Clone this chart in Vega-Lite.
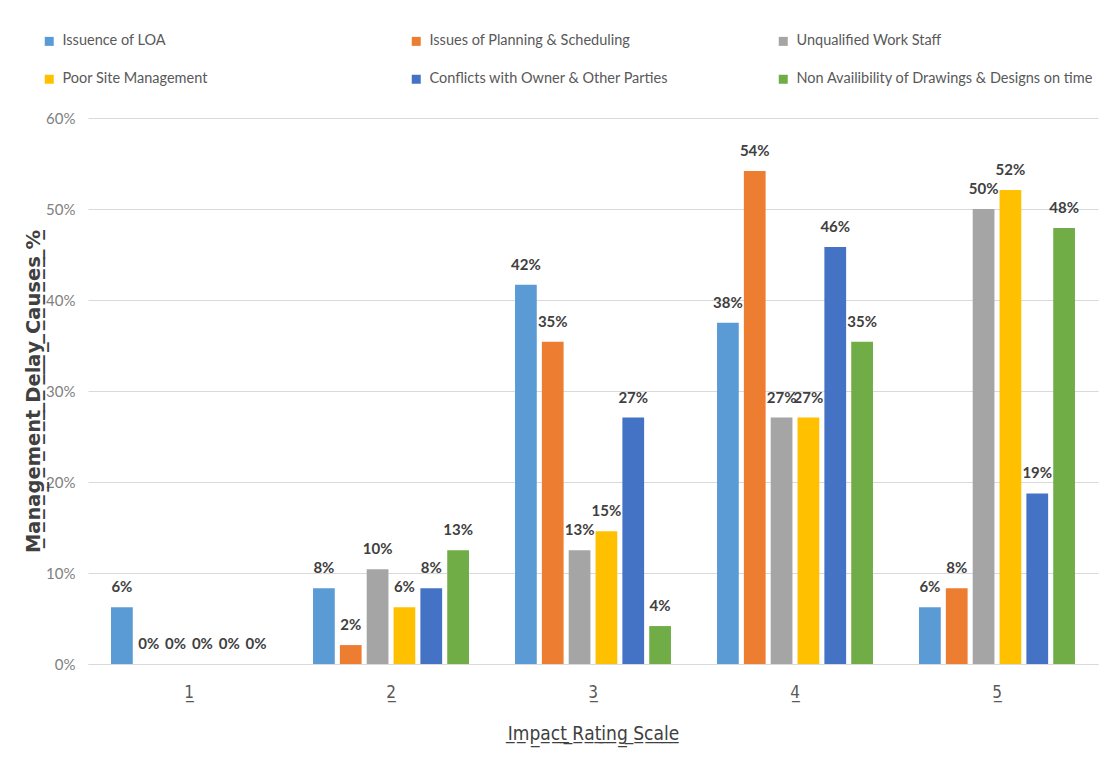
{
  "$schema": "https://vega.github.io/schema/vega-lite/v6.json",
  "width": 1010,
  "height": 546,
  "autosize": {"type": "none"},
  "padding": {"left": 88, "top": 118, "right": 11, "bottom": 105},
  "background": "white",
  "config": {
    "font": "Lato, sans-serif",
    "view": {"stroke": null}
  },
  "data": {
    "values": [
      {"scale": "1", "cause": "Issuence of LOA", "value": 0.0625},
      {"scale": "1", "cause": "Issues of Planning & Scheduling", "value": 0},
      {"scale": "1", "cause": "Unqualified Work Staff", "value": 0},
      {"scale": "1", "cause": "Poor Site Management", "value": 0},
      {"scale": "1", "cause": "Conflicts with Owner & Other Parties", "value": 0},
      {"scale": "1", "cause": "Non Availibility of Drawings & Designs on time", "value": 0},
      {"scale": "2", "cause": "Issuence of LOA", "value": 0.0833},
      {"scale": "2", "cause": "Issues of Planning & Scheduling", "value": 0.0208},
      {"scale": "2", "cause": "Unqualified Work Staff", "value": 0.1042},
      {"scale": "2", "cause": "Poor Site Management", "value": 0.0625},
      {"scale": "2", "cause": "Conflicts with Owner & Other Parties", "value": 0.0833},
      {"scale": "2", "cause": "Non Availibility of Drawings & Designs on time", "value": 0.125},
      {"scale": "3", "cause": "Issuence of LOA", "value": 0.4167},
      {"scale": "3", "cause": "Issues of Planning & Scheduling", "value": 0.3542},
      {"scale": "3", "cause": "Unqualified Work Staff", "value": 0.125},
      {"scale": "3", "cause": "Poor Site Management", "value": 0.1458},
      {"scale": "3", "cause": "Conflicts with Owner & Other Parties", "value": 0.2708},
      {"scale": "3", "cause": "Non Availibility of Drawings & Designs on time", "value": 0.0417},
      {"scale": "4", "cause": "Issuence of LOA", "value": 0.375},
      {"scale": "4", "cause": "Issues of Planning & Scheduling", "value": 0.5417},
      {"scale": "4", "cause": "Unqualified Work Staff", "value": 0.2708},
      {"scale": "4", "cause": "Poor Site Management", "value": 0.2708},
      {"scale": "4", "cause": "Conflicts with Owner & Other Parties", "value": 0.4583},
      {"scale": "4", "cause": "Non Availibility of Drawings & Designs on time", "value": 0.3542},
      {"scale": "5", "cause": "Issuence of LOA", "value": 0.0625},
      {"scale": "5", "cause": "Issues of Planning & Scheduling", "value": 0.0833},
      {"scale": "5", "cause": "Unqualified Work Staff", "value": 0.5},
      {"scale": "5", "cause": "Poor Site Management", "value": 0.5208},
      {"scale": "5", "cause": "Conflicts with Owner & Other Parties", "value": 0.1875},
      {"scale": "5", "cause": "Non Availibility of Drawings & Designs on time", "value": 0.4792}
    ]
  },
  "encoding": {
    "x": {
      "field": "scale", "type": "nominal",
      "scale": {"paddingInner": 0.228, "paddingOuter": 0.114},
      "axis": {
        "title": "I̲m̲p̲a̲c̲t̲ ̲R̲a̲t̲i̲n̲g̲ ̲S̲c̲a̲l̲e̲",
        "labelExpr": "datum.label + '\u0332'",
        "labelFont": "DejaVu Sans Condensed", "titleFont": "DejaVu Sans Condensed",
        "labelAngle": 0, "labelFontSize": 17, "labelColor": "#595959", "labelPadding": 20,
        "ticks": false, "domainColor": "#d9d9d9", "domainWidth": 1,
        "titleFontSize": 19, "titleFontWeight": "normal", "titleColor": "#404040", "titlePadding": 24
      }
    },
    "xOffset": {
      "field": "cause", "type": "nominal",
      "sort": ["Issuence of LOA", "Issues of Planning & Scheduling", "Unqualified Work Staff", "Poor Site Management", "Conflicts with Owner & Other Parties", "Non Availibility of Drawings & Designs on time"],
      "scale": {"paddingInner": 0.19, "paddingOuter": 0}
    },
    "y": {
      "field": "value", "type": "quantitative",
      "scale": {"domain": [0, 0.6]},
      "axis": {
        "title": "M̲a̲n̲a̲g̲e̲m̲e̲n̲t̲ ̲D̲e̲l̲a̲y̲ ̲C̲a̲u̲s̲e̲s̲ ̲%̲",
        "format": ".0%", "values": [0, 0.1, 0.2, 0.3, 0.4, 0.5, 0.6],
        "domain": false, "ticks": false, "labelPadding": 13,
        "labelFontSize": 15, "labelColor": "#7f7f7f",
        "gridColor": "#d9d9d9",
        "titleFont": "DejaVu Sans", "titleFontSize": 19.5, "titleFontWeight": "bold", "titleColor": "#404040", "titlePadding": 2
      }
    }
  },
  "layer": [
    {
      "mark": {"type": "bar"},
      "encoding": {
        "color": {
          "field": "cause", "type": "nominal",
          "scale": {
            "domain": ["Issuence of LOA", "Issues of Planning & Scheduling", "Unqualified Work Staff", "Poor Site Management", "Conflicts with Owner & Other Parties", "Non Availibility of Drawings & Designs on time"],
            "range": ["#5B9BD5", "#ED7D31", "#A5A5A5", "#FFC000", "#4472C4", "#70AD47"]
          },
          "legend": {
            "title": null, "orient": "none", "legendX": -46, "legendY": -84,
            "direction": "horizontal", "columns": 3, "gridAlign": "all",
            "columnPadding": 49, "rowPadding": 23,
            "symbolType": "square", "symbolSize": 81, "symbolStrokeWidth": 0,
            "labelFontSize": 14.5, "labelColor": "#595959", "labelLimit": 400, "labelOffset": 6
          }
        }
      }
    },
    {
      "mark": {"type": "text", "dy": -12, "fontWeight": "bold", "fontSize": 15, "color": "#404040", "baseline": "bottom"},
      "encoding": {
        "text": {"field": "value", "type": "quantitative", "format": ".0%"}
      }
    }
  ]
}
